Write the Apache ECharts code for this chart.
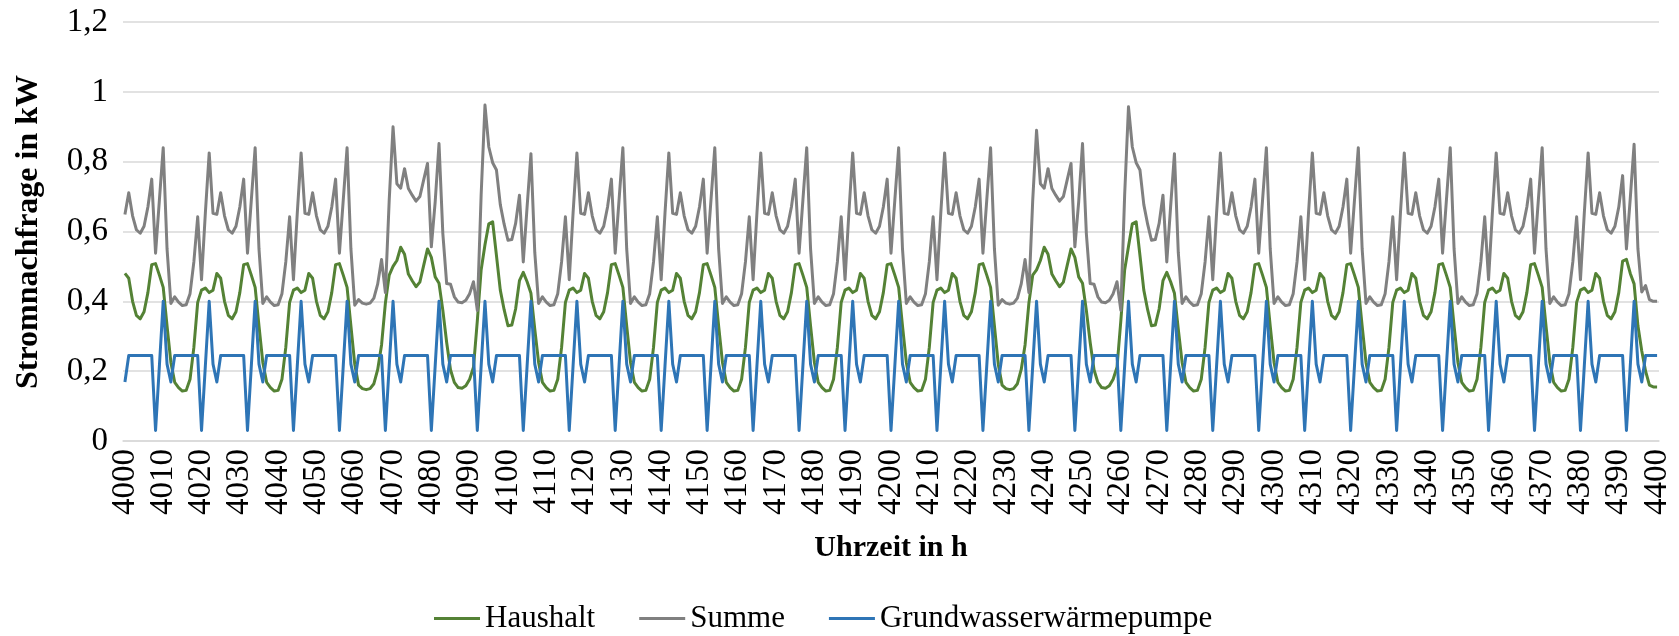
<!DOCTYPE html>
<html lang="de">
<head>
<meta charset="utf-8">
<title>Stromnachfrage</title>
<script src="https://cdn.jsdelivr.net/npm/echarts@6/dist/echarts.min.js"></script>
<style>
  html, body { margin: 0; padding: 0; background: #ffffff; }
  #chart { width: 1679px; height: 636px; }
</style>
</head>
<body>
<div id="chart"></div>
<script>
// Stunden 4000 bis 4400 (Kategorieachse)
const stunden = Array.from({ length: 401 }, (_, i) => String(4000 + i));

// Haushaltslast in kW, je Zeile 24 Stunden
const haushalt = [
  0.48, 0.466, 0.4, 0.36, 0.35, 0.37, 0.425, 0.505, 0.508, 0.475, 0.44, 0.33, 0.225, 0.168, 0.153, 0.143, 0.145, 0.177, 0.268, 0.397, 0.432, 0.438, 0.425, 0.432,
  0.48, 0.466, 0.4, 0.36, 0.35, 0.37, 0.425, 0.505, 0.508, 0.475, 0.44, 0.33, 0.225, 0.168, 0.153, 0.143, 0.145, 0.177, 0.268, 0.397, 0.432, 0.438, 0.425, 0.432,
  0.48, 0.466, 0.4, 0.36, 0.35, 0.37, 0.425, 0.505, 0.508, 0.475, 0.44, 0.33, 0.22, 0.16, 0.15, 0.147, 0.15, 0.164, 0.205, 0.275, 0.395, 0.475, 0.5, 0.517,
  0.555, 0.535, 0.478, 0.459, 0.442, 0.455, 0.503, 0.55, 0.526, 0.47, 0.452, 0.374, 0.282, 0.204, 0.168, 0.153, 0.151, 0.158, 0.177, 0.211, 0.344, 0.49, 0.562, 0.622,
  0.628, 0.531, 0.432, 0.376, 0.33, 0.332, 0.378, 0.459, 0.483, 0.456, 0.423, 0.32, 0.225, 0.168, 0.153, 0.143, 0.145, 0.177, 0.268, 0.397, 0.432, 0.438, 0.425, 0.432,
  0.48, 0.466, 0.4, 0.36, 0.35, 0.37, 0.425, 0.505, 0.508, 0.475, 0.44, 0.33, 0.225, 0.168, 0.153, 0.143, 0.145, 0.177, 0.268, 0.397, 0.432, 0.438, 0.425, 0.432,
  0.48, 0.466, 0.4, 0.36, 0.35, 0.37, 0.425, 0.505, 0.508, 0.475, 0.44, 0.33, 0.225, 0.168, 0.153, 0.143, 0.145, 0.177, 0.268, 0.397, 0.432, 0.438, 0.425, 0.432,
  0.48, 0.466, 0.4, 0.36, 0.35, 0.37, 0.425, 0.505, 0.508, 0.475, 0.44, 0.33, 0.225, 0.168, 0.153, 0.143, 0.145, 0.177, 0.268, 0.397, 0.432, 0.438, 0.425, 0.432,
  0.48, 0.466, 0.4, 0.36, 0.35, 0.37, 0.425, 0.505, 0.508, 0.475, 0.44, 0.33, 0.225, 0.168, 0.153, 0.143, 0.145, 0.177, 0.268, 0.397, 0.432, 0.438, 0.425, 0.432,
  0.48, 0.466, 0.4, 0.36, 0.35, 0.37, 0.425, 0.505, 0.508, 0.475, 0.44, 0.33, 0.22, 0.16, 0.15, 0.147, 0.15, 0.164, 0.205, 0.275, 0.395, 0.475, 0.49, 0.517,
  0.555, 0.535, 0.478, 0.459, 0.442, 0.455, 0.503, 0.55, 0.526, 0.47, 0.452, 0.374, 0.282, 0.204, 0.168, 0.153, 0.151, 0.158, 0.177, 0.211, 0.344, 0.49, 0.557, 0.622,
  0.628, 0.531, 0.432, 0.376, 0.33, 0.332, 0.378, 0.459, 0.483, 0.456, 0.423, 0.32, 0.225, 0.168, 0.153, 0.143, 0.145, 0.177, 0.268, 0.397, 0.432, 0.438, 0.425, 0.432,
  0.48, 0.466, 0.4, 0.36, 0.35, 0.37, 0.425, 0.505, 0.508, 0.475, 0.44, 0.33, 0.225, 0.168, 0.153, 0.143, 0.145, 0.177, 0.268, 0.397, 0.432, 0.438, 0.425, 0.432,
  0.48, 0.466, 0.4, 0.36, 0.35, 0.37, 0.425, 0.505, 0.508, 0.475, 0.44, 0.33, 0.225, 0.168, 0.153, 0.143, 0.145, 0.177, 0.268, 0.397, 0.432, 0.438, 0.425, 0.432,
  0.48, 0.466, 0.4, 0.36, 0.35, 0.37, 0.425, 0.505, 0.508, 0.475, 0.44, 0.33, 0.225, 0.168, 0.153, 0.143, 0.145, 0.177, 0.268, 0.397, 0.432, 0.438, 0.425, 0.432,
  0.48, 0.466, 0.4, 0.36, 0.35, 0.37, 0.425, 0.505, 0.508, 0.475, 0.44, 0.33, 0.225, 0.168, 0.153, 0.143, 0.145, 0.177, 0.268, 0.397, 0.432, 0.438, 0.425, 0.432,
  0.48, 0.466, 0.4, 0.36, 0.35, 0.37, 0.425, 0.515, 0.52, 0.48, 0.45, 0.33, 0.258, 0.2, 0.16, 0.155, 0.155
];

// Summe aus Haushalt und Wärmepumpe in kW
const summe = [
  0.649, 0.711, 0.645, 0.605, 0.595, 0.615, 0.67, 0.75, 0.538, 0.69, 0.84, 0.55, 0.394, 0.413, 0.398, 0.388, 0.39, 0.422, 0.513, 0.642, 0.462, 0.653, 0.825, 0.652,
  0.649, 0.711, 0.645, 0.605, 0.595, 0.615, 0.67, 0.75, 0.538, 0.69, 0.84, 0.55, 0.394, 0.413, 0.398, 0.388, 0.39, 0.422, 0.513, 0.642, 0.462, 0.653, 0.825, 0.652,
  0.649, 0.711, 0.645, 0.605, 0.595, 0.615, 0.67, 0.75, 0.538, 0.69, 0.84, 0.55, 0.389, 0.405, 0.395, 0.392, 0.395, 0.409, 0.45, 0.52, 0.425, 0.69, 0.9, 0.737,
  0.724, 0.78, 0.723, 0.704, 0.687, 0.7, 0.748, 0.795, 0.556, 0.685, 0.852, 0.594, 0.451, 0.449, 0.413, 0.398, 0.396, 0.403, 0.422, 0.456, 0.374, 0.705, 0.962, 0.842,
  0.797, 0.776, 0.677, 0.621, 0.575, 0.577, 0.623, 0.704, 0.513, 0.671, 0.823, 0.54, 0.394, 0.413, 0.398, 0.388, 0.39, 0.422, 0.513, 0.642, 0.462, 0.653, 0.825, 0.652,
  0.649, 0.711, 0.645, 0.605, 0.595, 0.615, 0.67, 0.75, 0.538, 0.69, 0.84, 0.55, 0.394, 0.413, 0.398, 0.388, 0.39, 0.422, 0.513, 0.642, 0.462, 0.653, 0.825, 0.652,
  0.649, 0.711, 0.645, 0.605, 0.595, 0.615, 0.67, 0.75, 0.538, 0.69, 0.84, 0.55, 0.394, 0.413, 0.398, 0.388, 0.39, 0.422, 0.513, 0.642, 0.462, 0.653, 0.825, 0.652,
  0.649, 0.711, 0.645, 0.605, 0.595, 0.615, 0.67, 0.75, 0.538, 0.69, 0.84, 0.55, 0.394, 0.413, 0.398, 0.388, 0.39, 0.422, 0.513, 0.642, 0.462, 0.653, 0.825, 0.652,
  0.649, 0.711, 0.645, 0.605, 0.595, 0.615, 0.67, 0.75, 0.538, 0.69, 0.84, 0.55, 0.394, 0.413, 0.398, 0.388, 0.39, 0.422, 0.513, 0.642, 0.462, 0.653, 0.825, 0.652,
  0.649, 0.711, 0.645, 0.605, 0.595, 0.615, 0.67, 0.75, 0.538, 0.69, 0.84, 0.55, 0.389, 0.405, 0.395, 0.392, 0.395, 0.409, 0.45, 0.52, 0.425, 0.69, 0.89, 0.737,
  0.724, 0.78, 0.723, 0.704, 0.687, 0.7, 0.748, 0.795, 0.556, 0.685, 0.852, 0.594, 0.451, 0.449, 0.413, 0.398, 0.396, 0.403, 0.422, 0.456, 0.374, 0.705, 0.957, 0.842,
  0.797, 0.776, 0.677, 0.621, 0.575, 0.577, 0.623, 0.704, 0.513, 0.671, 0.823, 0.54, 0.394, 0.413, 0.398, 0.388, 0.39, 0.422, 0.513, 0.642, 0.462, 0.653, 0.825, 0.652,
  0.649, 0.711, 0.645, 0.605, 0.595, 0.615, 0.67, 0.75, 0.538, 0.69, 0.84, 0.55, 0.394, 0.413, 0.398, 0.388, 0.39, 0.422, 0.513, 0.642, 0.462, 0.653, 0.825, 0.652,
  0.649, 0.711, 0.645, 0.605, 0.595, 0.615, 0.67, 0.75, 0.538, 0.69, 0.84, 0.55, 0.394, 0.413, 0.398, 0.388, 0.39, 0.422, 0.513, 0.642, 0.462, 0.653, 0.825, 0.652,
  0.649, 0.711, 0.645, 0.605, 0.595, 0.615, 0.67, 0.75, 0.538, 0.69, 0.84, 0.55, 0.394, 0.413, 0.398, 0.388, 0.39, 0.422, 0.513, 0.642, 0.462, 0.653, 0.825, 0.652,
  0.649, 0.711, 0.645, 0.605, 0.595, 0.615, 0.67, 0.75, 0.538, 0.69, 0.84, 0.55, 0.394, 0.413, 0.398, 0.388, 0.39, 0.422, 0.513, 0.642, 0.462, 0.653, 0.825, 0.652,
  0.649, 0.711, 0.645, 0.605, 0.595, 0.615, 0.67, 0.76, 0.55, 0.695, 0.85, 0.55, 0.427, 0.445, 0.405, 0.4, 0.4
];

// Grundwasserwärmepumpe in kW
const waermepumpe = [
  0.169, 0.245, 0.245, 0.245, 0.245, 0.245, 0.245, 0.245, 0.03, 0.215, 0.4, 0.22, 0.169, 0.245, 0.245, 0.245, 0.245, 0.245, 0.245, 0.245, 0.03, 0.215, 0.4, 0.22,
  0.169, 0.245, 0.245, 0.245, 0.245, 0.245, 0.245, 0.245, 0.03, 0.215, 0.4, 0.22, 0.169, 0.245, 0.245, 0.245, 0.245, 0.245, 0.245, 0.245, 0.03, 0.215, 0.4, 0.22,
  0.169, 0.245, 0.245, 0.245, 0.245, 0.245, 0.245, 0.245, 0.03, 0.215, 0.4, 0.22, 0.169, 0.245, 0.245, 0.245, 0.245, 0.245, 0.245, 0.245, 0.03, 0.215, 0.4, 0.22,
  0.169, 0.245, 0.245, 0.245, 0.245, 0.245, 0.245, 0.245, 0.03, 0.215, 0.4, 0.22, 0.169, 0.245, 0.245, 0.245, 0.245, 0.245, 0.245, 0.245, 0.03, 0.215, 0.4, 0.22,
  0.169, 0.245, 0.245, 0.245, 0.245, 0.245, 0.245, 0.245, 0.03, 0.215, 0.4, 0.22, 0.169, 0.245, 0.245, 0.245, 0.245, 0.245, 0.245, 0.245, 0.03, 0.215, 0.4, 0.22,
  0.169, 0.245, 0.245, 0.245, 0.245, 0.245, 0.245, 0.245, 0.03, 0.215, 0.4, 0.22, 0.169, 0.245, 0.245, 0.245, 0.245, 0.245, 0.245, 0.245, 0.03, 0.215, 0.4, 0.22,
  0.169, 0.245, 0.245, 0.245, 0.245, 0.245, 0.245, 0.245, 0.03, 0.215, 0.4, 0.22, 0.169, 0.245, 0.245, 0.245, 0.245, 0.245, 0.245, 0.245, 0.03, 0.215, 0.4, 0.22,
  0.169, 0.245, 0.245, 0.245, 0.245, 0.245, 0.245, 0.245, 0.03, 0.215, 0.4, 0.22, 0.169, 0.245, 0.245, 0.245, 0.245, 0.245, 0.245, 0.245, 0.03, 0.215, 0.4, 0.22,
  0.169, 0.245, 0.245, 0.245, 0.245, 0.245, 0.245, 0.245, 0.03, 0.215, 0.4, 0.22, 0.169, 0.245, 0.245, 0.245, 0.245, 0.245, 0.245, 0.245, 0.03, 0.215, 0.4, 0.22,
  0.169, 0.245, 0.245, 0.245, 0.245, 0.245, 0.245, 0.245, 0.03, 0.215, 0.4, 0.22, 0.169, 0.245, 0.245, 0.245, 0.245, 0.245, 0.245, 0.245, 0.03, 0.215, 0.4, 0.22,
  0.169, 0.245, 0.245, 0.245, 0.245, 0.245, 0.245, 0.245, 0.03, 0.215, 0.4, 0.22, 0.169, 0.245, 0.245, 0.245, 0.245, 0.245, 0.245, 0.245, 0.03, 0.215, 0.4, 0.22,
  0.169, 0.245, 0.245, 0.245, 0.245, 0.245, 0.245, 0.245, 0.03, 0.215, 0.4, 0.22, 0.169, 0.245, 0.245, 0.245, 0.245, 0.245, 0.245, 0.245, 0.03, 0.215, 0.4, 0.22,
  0.169, 0.245, 0.245, 0.245, 0.245, 0.245, 0.245, 0.245, 0.03, 0.215, 0.4, 0.22, 0.169, 0.245, 0.245, 0.245, 0.245, 0.245, 0.245, 0.245, 0.03, 0.215, 0.4, 0.22,
  0.169, 0.245, 0.245, 0.245, 0.245, 0.245, 0.245, 0.245, 0.03, 0.215, 0.4, 0.22, 0.169, 0.245, 0.245, 0.245, 0.245, 0.245, 0.245, 0.245, 0.03, 0.215, 0.4, 0.22,
  0.169, 0.245, 0.245, 0.245, 0.245, 0.245, 0.245, 0.245, 0.03, 0.215, 0.4, 0.22, 0.169, 0.245, 0.245, 0.245, 0.245, 0.245, 0.245, 0.245, 0.03, 0.215, 0.4, 0.22,
  0.169, 0.245, 0.245, 0.245, 0.245, 0.245, 0.245, 0.245, 0.03, 0.215, 0.4, 0.22, 0.169, 0.245, 0.245, 0.245, 0.245, 0.245, 0.245, 0.245, 0.03, 0.215, 0.4, 0.22,
  0.169, 0.245, 0.245, 0.245, 0.245, 0.245, 0.245, 0.245, 0.03, 0.215, 0.4, 0.22, 0.169, 0.245, 0.245, 0.245, 0.245
];

const serifFont = '"Liberation Serif", "Times New Roman", serif';

const chart = echarts.init(document.getElementById('chart'), null, { renderer: 'canvas' });

const lineSeries = (name, data, color) => ({
  name,
  type: 'line',
  data,
  symbol: 'none',
  smooth: false,
  lineStyle: { color, width: 3, join: 'round' },
  itemStyle: { color },
  emphasis: { disabled: true }
});

chart.setOption({
  animation: false,
  backgroundColor: '#ffffff',
  grid: { left: 123, right: 20, top: 22, bottom: 195, containLabel: false },
  legend: {
    left: 434,
    top: 603,
    padding: 0,
    icon: 'rect',
    itemWidth: 46,
    itemHeight: 3,
    itemGap: 44,
    textStyle: { fontFamily: serifFont, fontSize: 31, color: '#000000' },
    data: ['Haushalt', 'Summe', 'Grundwasserwärmepumpe']
  },
  xAxis: {
    type: 'category',
    data: stunden,
    boundaryGap: true,
    axisLine: { show: true, lineStyle: { color: '#d9d9d9', width: 1.5 } },
    axisTick: { show: false },
    splitLine: { show: false },
    axisLabel: {
      interval: 9,
      rotate: 90,
      margin: 8,
      fontFamily: serifFont,
      fontSize: 33,
      color: '#000000'
    }
  },
  yAxis: {
    type: 'value',
    min: 0,
    max: 1.2,
    interval: 0.2,
    axisLine: { show: false },
    axisTick: { show: false },
    splitLine: { show: true, lineStyle: { color: '#d9d9d9', width: 1.5 } },
    axisLabel: {
      margin: 15,
      fontFamily: serifFont,
      fontSize: 33,
      color: '#000000',
      formatter: v => String(Math.round(v * 10) / 10).replace('.', ',')
    }
  },
  graphic: [
    {
      type: 'text',
      x: 29,
      y: 232,
      rotation: Math.PI / 2,
      style: {
        text: 'Stromnachfrage in kW',
        font: 'bold 32px ' + serifFont,
        fill: '#000000',
        align: 'center',
        verticalAlign: 'middle'
      }
    },
    {
      type: 'text',
      x: 891,
      y: 548,
      style: {
        text: 'Uhrzeit in h',
        font: 'bold 30px ' + serifFont,
        fill: '#000000',
        align: 'center',
        verticalAlign: 'middle'
      }
    }
  ],
  series: [
    lineSeries('Haushalt', haushalt, '#548235'),
    lineSeries('Summe', summe, '#808080'),
    lineSeries('Grundwasserwärmepumpe', waermepumpe, '#2e75b6')
  ]
});
</script>
</body>
</html>
